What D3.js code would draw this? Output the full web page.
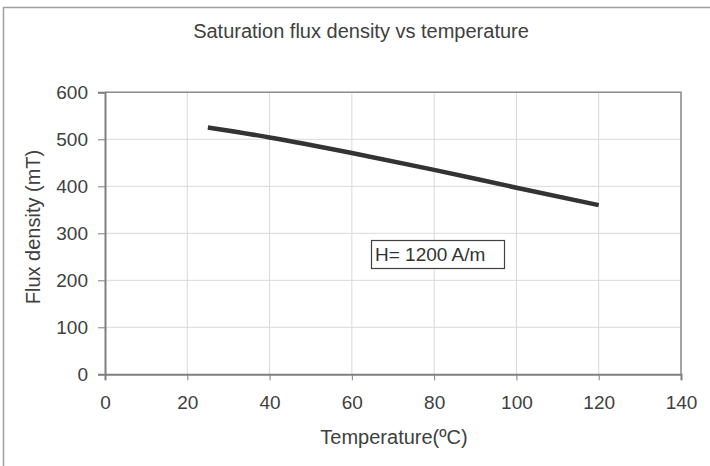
<!DOCTYPE html>
<html><head><meta charset="utf-8">
<script src="https://cdn.jsdelivr.net/npm/d3@7/dist/d3.min.js"></script>
<style>body{margin:0;background:#fff}svg{display:block}text{font-family:"Liberation Sans",Arial,sans-serif}</style>
</head><body>
<script>
const temperature = [25, 40, 60, 80, 100, 120];
const fluxDensity = [525, 504, 471, 435, 397, 360];
const xTicks = [0, 20, 40, 60, 80, 100, 120, 140];
const yTicks = [0, 100, 200, 300, 400, 500, 600];
const title = "Saturation flux density vs temperature";
const xTitle = "Temperature(ºC)";
const yTitle = "Flux density (mT)";
const note = "H= 1200 A/m";

const W = 710, H = 466;
const svg = d3.select("body").append("svg").attr("width", W).attr("height", H);
svg.append("rect").attr("x", 3.5).attr("y", 7.5).attr("width", W + 20).attr("height", H + 20)
  .attr("fill", "#fff").attr("stroke", "#a0a0a0").attr("stroke-width", 1.5);

const x = d3.scaleLinear().domain([0, 140]).range([105, 681]);
const y = d3.scaleLinear().domain([0, 600]).range([374.3, 92.3]);

// grid
svg.append("g").selectAll("line").data(xTicks.slice(1)).join("line")
  .attr("x1", d => x(d)).attr("x2", d => x(d)).attr("y1", y(0)).attr("y2", y(600))
  .attr("stroke", "#d9d9d9").attr("stroke-width", 1);
svg.append("g").selectAll("line").data(yTicks.slice(1)).join("line")
  .attr("x1", x(0)).attr("x2", x(140)).attr("y1", d => y(d)).attr("y2", d => y(d))
  .attr("stroke", "#d9d9d9").attr("stroke-width", 1);
// plot border top/right
svg.append("path").attr("d", `M${x(0)},${y(600)}H${x(140)}V${y(0)}`)
  .attr("fill", "none").attr("stroke", "#8c8c8c").attr("stroke-width", 1.5);

const xAxis = svg.append("g").attr("transform", `translate(0,${y(0)})`)
  .call(d3.axisBottom(x).tickValues(xTicks).tickSize(6).tickPadding(15).tickFormat(d3.format("d")));
const yAxis = svg.append("g").attr("transform", `translate(${x(0)},0)`)
  .call(d3.axisLeft(y).tickValues(yTicks).tickSize(7).tickPadding(10).tickFormat(d3.format("d")));
[xAxis, yAxis].forEach(g => {
  g.select(".domain").attr("stroke", "#7f7f7f").attr("stroke-width", 2);
  g.selectAll(".tick line").attr("stroke", "#7f7f7f").attr("stroke-width", 1);
  g.selectAll("text").attr("fill", "#404040").style("font-size", "19px")
    .style("font-family", '"Liberation Sans",Arial,sans-serif');
});

const pts = temperature.map((t, i) => [t, fluxDensity[i]]);
svg.append("path").datum(pts)
  .attr("d", d3.line().x(d => x(d[0])).y(d => y(d[1])).curve(d3.curveMonotoneX))
  .attr("fill", "none").attr("stroke", "#333333").attr("stroke-width", 4.5);

svg.append("text").attr("x", 361).attr("y", 38).attr("text-anchor", "middle")
  .attr("fill", "#404040").style("font-size", "20px").text(title);
svg.append("text").attr("x", 394).attr("y", 444).attr("text-anchor", "middle")
  .attr("fill", "#404040").style("font-size", "20px").text(xTitle);
svg.append("text").attr("transform", "translate(40,227) rotate(-90)").attr("text-anchor", "middle")
  .attr("fill", "#404040").style("font-size", "20px").text(yTitle);

// note box
svg.append("rect").attr("x", 371.5).attr("y", 240.5).attr("width", 133).attr("height", 28)
  .attr("fill", "#fff").attr("stroke", "#404040").attr("stroke-width", 1.2);
svg.append("text").attr("x", 375).attr("y", 261).attr("fill", "#333")
  .style("font-size", "19px").text(note);
</script>
</body></html>
